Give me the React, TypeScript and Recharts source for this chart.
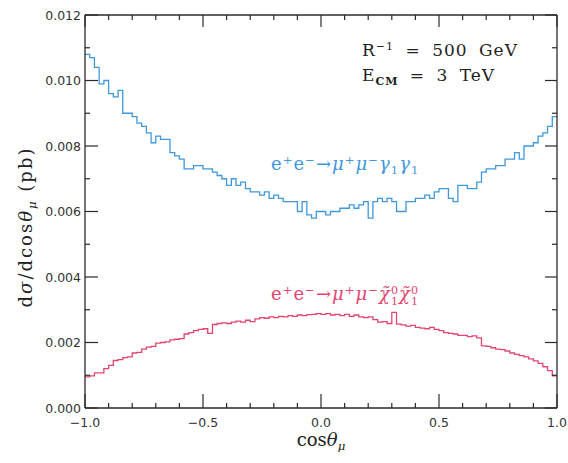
import React from "react";
import { Line, LineChart, XAxis, YAxis } from "recharts";

// 100 bins of width 0.02 in cos(theta_mu) (pb)
const binWidth = 0.02;

const gammaGamma = [
  0.0108, 0.0107, 0.0104, 0.0099, 0.01, 0.0096, 0.0095, 0.0097, 0.009, 0.009,
  0.0089, 0.0087, 0.0086, 0.0084, 0.0081, 0.0083, 0.0082, 0.0082, 0.0078, 0.0077,
  0.0076, 0.0073, 0.0073, 0.0074, 0.0074, 0.0073, 0.0073, 0.0072, 0.0071, 0.007,
  0.0068, 0.007, 0.0068, 0.0069, 0.0067, 0.0066, 0.0066, 0.0065, 0.0066, 0.0064,
  0.0065, 0.0064, 0.0063, 0.0063, 0.0063, 0.006, 0.0063, 0.0059, 0.0058, 0.006,
  0.006, 0.0059, 0.006, 0.006, 0.0061, 0.0061, 0.0062, 0.0061, 0.0062, 0.0063,
  0.0058, 0.0063, 0.0064, 0.0063, 0.0064, 0.0063, 0.006, 0.006, 0.0063, 0.0063,
  0.0064, 0.0064, 0.0065, 0.0064, 0.0066, 0.0067, 0.0067, 0.0064, 0.0063, 0.0068,
  0.0068, 0.0067, 0.0067, 0.0069, 0.0072, 0.0073, 0.0073, 0.0074, 0.0074, 0.0076,
  0.0076, 0.0078, 0.0076, 0.008, 0.008, 0.0081, 0.0083, 0.0084, 0.0086, 0.0089,
];

const neutralino = [
  0.00095, 0.00098, 0.00107, 0.00107, 0.0012, 0.0013, 0.00145, 0.00148, 0.00154, 0.00156,
  0.00168, 0.0017, 0.0018, 0.00186, 0.00188, 0.00198, 0.002, 0.00202, 0.00208, 0.0021,
  0.00212, 0.00226, 0.0023, 0.00236, 0.0024, 0.00242, 0.00228, 0.00255, 0.00258, 0.0026,
  0.00258, 0.00262, 0.00265, 0.00262, 0.00268, 0.00264, 0.00272, 0.00276, 0.00274, 0.00278,
  0.00276, 0.0028, 0.00278, 0.00282, 0.0028, 0.00284, 0.00282, 0.00285, 0.00286, 0.00288,
  0.00286, 0.00288, 0.00284, 0.00286, 0.00282, 0.00286, 0.0028, 0.00284, 0.00278, 0.00276,
  0.00278, 0.0027, 0.00262, 0.00264, 0.00258, 0.00292, 0.00256, 0.00254, 0.0025, 0.00252,
  0.00246, 0.00244, 0.00242, 0.00246, 0.0024, 0.00236, 0.0023, 0.00228, 0.00226, 0.00222,
  0.00222, 0.00218, 0.0022, 0.00214, 0.0019, 0.00188, 0.00184, 0.0018, 0.00178, 0.00174,
  0.00168, 0.00164, 0.0016, 0.00156, 0.0015, 0.00144, 0.00136, 0.00126, 0.00114, 0.00098,
];

const xTicks = [
  -1, -0.9, -0.8, -0.7, -0.6, -0.5, -0.4, -0.3, -0.2, -0.1, 0,
  0.1, 0.2, 0.3, 0.4, 0.5, 0.6, 0.7, 0.8, 0.9, 1,
];
const yTicks = [
  0, 0.001, 0.002, 0.003, 0.004, 0.005, 0.006, 0.007, 0.008, 0.009, 0.01, 0.011, 0.012,
];
const xMin = -1;
const xMax = 1;
const yMin = 0;
const yMax = 0.012;

// bin edges; the last edge repeats the last bin so stepAfter closes the histogram
const data = gammaGamma
  .map((g, i) => ({ x: -1 + i * binWidth, gg: g, chi: neutralino[i] }))
  .concat([{ x: 1, gg: gammaGamma[99], chi: neutralino[99] }]);

// layout
const CHART_W = 568;
const CHART_H = 463;
const MARGIN = { top: 15, right: 11, bottom: 5, left: 0 };
const Y_AXIS_W = 85;
const X_AXIS_H = 50;
const PLOT_W = CHART_W - MARGIN.left - MARGIN.right - Y_AXIS_W;
const PLOT_H = CHART_H - MARGIN.top - MARGIN.bottom - X_AXIS_H;

const AXIS = "#2a2a2a";
const BLUE = "#3f98dc";
const RED = "#e2466f";
const tickFont = { fontFamily: "DejaVu Sans", fontSize: 12.5, fill: "#333" };

const isMajor = (v: number, step: number) =>
  Math.abs(v / step - Math.round(v / step)) < 1e-6;
const fmt = (v: number, d: number) => v.toFixed(d).replace("-", "\u2212");

// bottom tick + label, plus the mirrored tick on the top edge of the frame
const BottomTick = (props: any) => {
  const { x, y, payload } = props;
  const major = isMajor(payload.value, 0.5);
  const topY = y - PLOT_H;
  return (
    <g>
      <line x1={x} x2={x} y1={y} y2={y - (major ? 14 : 5)} stroke={AXIS} strokeWidth={1.2} />
      <line x1={x} x2={x} y1={topY} y2={topY + (major ? 12 : 5)} stroke={AXIS} strokeWidth={1.2} />
      {payload.value === xMin && (
        <line x1={x} x2={x + PLOT_W} y1={topY} y2={topY} stroke={AXIS} strokeWidth={1.3} />
      )}
      {major && (
        <text x={x} y={y + 19} textAnchor="middle" {...tickFont}>
          {fmt(payload.value, 1)}
        </text>
      )}
    </g>
  );
};

// left tick + label, plus the mirrored tick on the right edge of the frame
const LeftTick = (props: any) => {
  const { x, y, payload } = props;
  const major = isMajor(payload.value, 0.002);
  const rightX = x + PLOT_W;
  return (
    <g>
      <line x1={x} x2={x + (major ? 13 : 5)} y1={y} y2={y} stroke={AXIS} strokeWidth={1.2} />
      <line x1={rightX} x2={rightX - (major ? 12 : 5)} y1={y} y2={y} stroke={AXIS} strokeWidth={1.2} />
      {payload.value === yMin && (
        <line x1={rightX} x2={rightX} y1={y} y2={y - PLOT_H} stroke={AXIS} strokeWidth={1.3} />
      )}
      {major && (
        <text x={x - 4} y={y + 4.5} textAnchor="end" {...tickFont}>
          {fmt(payload.value, 3)}
        </text>
      )}
    </g>
  );
};

const serif: React.CSSProperties = {
  position: "absolute",
  fontFamily: "DejaVu Serif",
  whiteSpace: "nowrap",
  lineHeight: "20px",
};
const sup: React.CSSProperties = { fontSize: "0.65em", verticalAlign: "0.55em", lineHeight: 0 };
const sub: React.CSSProperties = { fontSize: "0.65em", verticalAlign: "-0.35em", lineHeight: 0 };
const it: React.CSSProperties = { fontStyle: "italic" };

const Chi = () => (
  <span style={{ display: "inline-block" }}>
    <span style={it}>{"\u03c7\u0303"}</span>
    <span
      style={{
        display: "inline-flex",
        flexDirection: "column",
        fontSize: "0.62em",
        lineHeight: "0.95em",
        verticalAlign: "0.5em",
      }}
    >
      <span>0</span>
      <span>1</span>
    </span>
  </span>
);

export default function App() {
  return (
    <div style={{ position: "absolute", left: 0, top: 0, width: CHART_W, height: CHART_H }}>
      <LineChart width={CHART_W} height={CHART_H} data={data} margin={MARGIN}>
        <XAxis
          dataKey="x"
          type="number"
          domain={[xMin, xMax]}
          ticks={xTicks}
          height={X_AXIS_H}
          tickSize={0}
          tickMargin={0}
          tickLine={false}
          tick={<BottomTick />}
          axisLine={{ stroke: AXIS, strokeWidth: 1.3 }}
          interval={0}
        />
        <YAxis
          type="number"
          domain={[yMin, yMax]}
          ticks={yTicks}
          width={Y_AXIS_W}
          tickSize={0}
          tickMargin={0}
          tickLine={false}
          tick={<LeftTick />}
          axisLine={{ stroke: AXIS, strokeWidth: 1.3 }}
          interval={0}
        />
        <Line
          type="stepAfter"
          dataKey="gg"
          stroke={BLUE}
          strokeWidth={1.3}
          dot={false}
          isAnimationActive={false}
        />
        <Line
          type="stepAfter"
          dataKey="chi"
          stroke={RED}
          strokeWidth={1.3}
          dot={false}
          isAnimationActive={false}
        />
      </LineChart>

      <div
        style={{ ...serif, left: 362, top: 40, fontSize: 17, letterSpacing: 1, wordSpacing: 5, color: "#222" }}
      >
        R<span style={sup}>{"\u22121"}</span> = 500 GeV
      </div>
      <div
        style={{ ...serif, left: 362, top: 65, fontSize: 17, letterSpacing: 1, wordSpacing: 5, color: "#222" }}
      >
        E<span style={{ ...sub, fontWeight: "bold" }}>CM</span> = 3 TeV
      </div>

      <div style={{ ...serif, left: 271, top: 154, fontSize: 18, letterSpacing: 1, color: BLUE }}>
        e<span style={sup}>+</span>e<span style={sup}>{"\u2212"}</span>
        {"\u2192"}
        <span style={it}>{"\u03bc"}</span>
        <span style={sup}>+</span>
        <span style={it}>{"\u03bc"}</span>
        <span style={sup}>{"\u2212"}</span>
        <span style={it}>{"\u03b3"}</span>
        <span style={sub}>1</span>
        <span style={it}>{"\u03b3"}</span>
        <span style={sub}>1</span>
      </div>

      <div style={{ ...serif, left: 271, top: 284, fontSize: 18, letterSpacing: 1, color: RED }}>
        e<span style={sup}>+</span>e<span style={sup}>{"\u2212"}</span>
        {"\u2192"}
        <span style={it}>{"\u03bc"}</span>
        <span style={sup}>+</span>
        <span style={it}>{"\u03bc"}</span>
        <span style={sup}>{"\u2212"}</span>
        <Chi />
        <Chi />
      </div>

      <div
        style={{
          ...serif,
          left: 321,
          top: 440,
          fontSize: 18,
          color: "#222",
          transform: "translate(-50%, -50%)",
        }}
      >
        cos<span style={it}>{"\u03b8"}</span>
        <span style={{ ...sub, ...it }}>{"\u03bc"}</span>
      </div>

      <div
        style={{
          ...serif,
          left: 26,
          top: 227,
          fontSize: 18,
          letterSpacing: 2,
          color: "#222",
          transform: "translate(-50%, -50%) rotate(-90deg)",
        }}
      >
        d<span style={it}>{"\u03c3"}</span>/dcos<span style={it}>{"\u03b8"}</span>
        <span style={{ ...sub, ...it }}>{"\u03bc"}</span> (pb)
      </div>
    </div>
  );
}
